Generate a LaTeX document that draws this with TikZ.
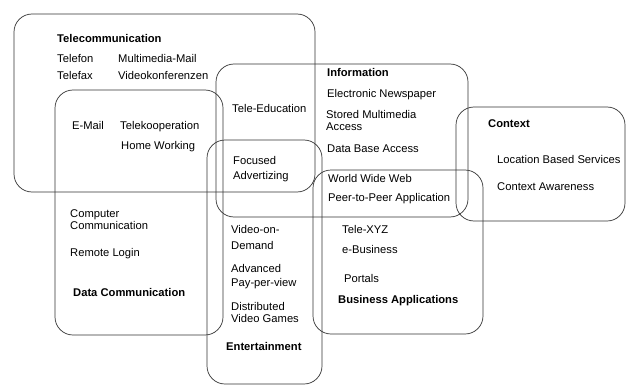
\documentclass[tikz,border=0pt]{standalone}
\usepackage{fontspec}
\setmainfont{Liberation Sans}
\usetikzlibrary{positioning}

\tikzset{area/.style={draw=black!80, line width=0.7pt, rounded corners=18pt},
  item/.style={anchor=base west, inner sep=0pt, font=\fontsize{11.2}{13}\selectfont},
  title/.style={item, font=\fontsize{11.2}{13}\selectfont\bfseries}}

\begin{document}
\begin{tikzpicture}[x=1pt, y=-1pt]
            \useasboundingbox (0,0) rectangle (628,385);
            \draw [area] (14,14) rectangle (315,192);
            \draw [area] (55,90) rectangle (223,335);
            \draw [area] (216,64) rectangle (468,217);
            \draw [area] (207,140) rectangle (322,384);
            \draw [area] (313,170) rectangle (483,334);
            \draw [area] (456,107) rectangle (625,221);

            \node [title] (Telecom) at (57,43) {Telecommunication};
            \node [item] (Telefon) at (57,63) {Telefon};
            \node [item] (Telefax) at (57,80) {Telefax};
            \node [item] (MMail) at (118,63) {Multimedia-Mail};
            \node [item] (Video) at (118,80) {Videokonferenzen};
            \node [item] (EMail) at (72,129) {E-Mail};
            \node [item] (Telekoop) at (120,129) {Telekooperation};
            \node [item] (Home) at (121,149) {Home Working};
            \node [item] (TeleEdu) at (232,113) {Tele-Education};
            \node [item] (Focused) at (233,164) {Focused};
            \node [item] (Advert) at (233,179) {Advertizing};

            \node [title] (Info) at (327,77) {Information};
            \node [item] (News) at (327,98) {Electronic Newspaper};
            \node [item] (Stored) at (326,118) {Stored Multimedia};
            \node [item] (Access) at (326,130) {Access};
            \node [item] (DBase) at (327,152) {Data Base Access};
            \node [item] (WWW) at (328,182) {World Wide Web};
            \node [item] (PtoP) at (328,201) {Peer-to-Peer Application};

            \node [title] (Context) at (488,127) {Context};
            \node [item] (Location) at (497,163) {Location Based Services};
            \node [item] (Aware) at (497,190) {Context Awareness};

            \node [item] (TeleXYZ) at (342,233) {Tele-XYZ};
            \node [item] (EBus) at (342,253) {e-Business};
            \node [item] (Portals) at (344,282) {Portals};
            \node [title] (Business) at (338,303) {Business Applications};

            \node [item] (Computer) at (70,217) {Computer};
            \node [item] (CompComm) at (70,229) {Communication};
            \node [item] (Remote) at (70,256) {Remote Login};
            \node [title] (DataComm) at (73,296) {Data Communication};

            \node [item] (VoD) at (231,233) {Video-on-};
            \node [item] (Demand) at (231,249) {Demand};
            \node [item] (Advanced) at (231,272) {Advanced};
            \node [item] (PPV) at (231,286) {Pay-per-view};
            \node [item] (Distrib) at (231,310) {Distributed};
            \node [item] (Games) at (231,322) {Video Games};
            \node [title] (Entertain) at (226,350) {Entertainment};
\end{tikzpicture}
\end{document}
